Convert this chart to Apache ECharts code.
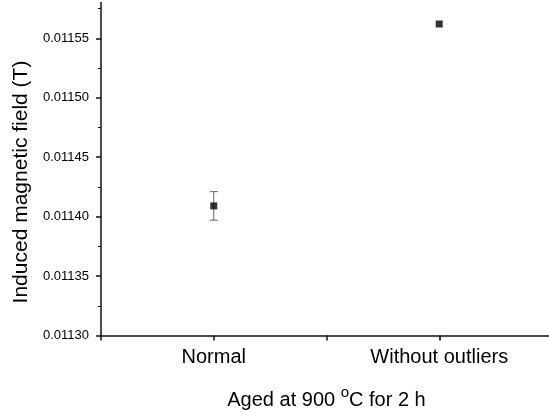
<!DOCTYPE html>
<html>
<head>
<meta charset="utf-8">
<script src="https://cdn.jsdelivr.net/npm/echarts@6/dist/echarts.min.js"></script>
<style>html,body{margin:0;padding:0;background:#fff}#c{width:549px;height:420px}</style>
</head>
<body>
<div id="c"></div>
<script>
const categories = ['Normal', 'Without outliers'];
const positions = [1, 2];
const fieldValues = [0.011409, 0.011562];
const fieldErrors = [0.000012, 0];
const yTickValues = [0.01130, 0.01135, 0.01140, 0.01145, 0.01150, 0.01155];
const yAxisTitle = 'Induced magnetic field (T)';

const FONT = '"Liberation Sans", Arial, Helvetica, sans-serif';
const chart = echarts.init(document.getElementById('c'), null, {renderer: 'canvas'});

const points = positions.map((p, i) => [p, fieldValues[i]]);
const errs = positions
  .map((p, i) => [p, fieldValues[i] - fieldErrors[i], fieldValues[i] + fieldErrors[i], fieldErrors[i]])
  .filter(d => d[3] > 0);

chart.setOption({
  animation: false,
  backgroundColor: '#fff',
  grid: {left: 101, top: 2.6, width: 451, height: 332.9, containLabel: false, outerBoundsMode: 'none'},
  xAxis: {
    type: 'value', min: 0.5, max: 2.5, interval: 0.5,
    splitLine: {show: false},
    axisLine: {lineStyle: {color: '#111', width: 1.5}},
    axisTick: {show: true, inside: false, length: 5, lineStyle: {color: '#111', width: 1.5}},
    axisLabel: {
      fontFamily: FONT, fontSize: 20, color: '#000', margin: 12,
      showMinLabel: true, showMaxLabel: true,
      formatter: v => {
        const i = positions.indexOf(v);
        return i >= 0 ? categories[i] : '';
      }
    },
    name: '{a|Aged at 900 }{sup|o}{a|C for 2 h}',
    nameLocation: 'middle',
    nameGap: 50,
    nameTextStyle: {
      fontFamily: FONT, color: '#000',
      rich: {
        a: {fontFamily: FONT, fontSize: 20, lineHeight: 30, color: '#000'},
        sup: {fontFamily: FONT, fontSize: 15, lineHeight: 10, verticalAlign: 'top', color: '#000'}
      }
    }
  },
  yAxis: {
    type: 'value', min: 0.0113, max: 0.01158, interval: 0.00005,
    splitLine: {show: false},
    axisLine: {show: true, lineStyle: {color: '#111', width: 1.5}},
    axisTick: {show: true, inside: false, length: 5, customValues: yTickValues, lineStyle: {color: '#111', width: 1.5}},
    minorTick: {show: true, splitNumber: 2, length: 3, lineStyle: {color: '#111', width: 1}},
    minorSplitLine: {show: false},
    axisLabel: {
      fontFamily: FONT, fontSize: 13, color: '#000', margin: 12,
      customValues: yTickValues,
      formatter: v => v.toFixed(5)
    }
  },
  graphic: [{
    type: 'text',
    x: 21, y: 182,
    rotation: Math.PI / 2,
    style: {
      text: yAxisTitle,
      font: '21px ' + FONT,
      fill: '#000',
      align: 'center',
      verticalAlign: 'middle'
    }
  }],
  series: [
    {
      type: 'custom',
      data: errs,
      z: 2,
      renderItem: (params, api) => {
        const x = api.value(0);
        const pLo = api.coord([x, api.value(1)]);
        const pHi = api.coord([x, api.value(2)]);
        const hw = 4;
        const st = {stroke: '#666', lineWidth: 1};
        return {
          type: 'group',
          children: [
            {type: 'line', shape: {x1: pHi[0], y1: pHi[1], x2: pLo[0], y2: pLo[1]}, style: st},
            {type: 'line', shape: {x1: pHi[0] - hw, y1: pHi[1], x2: pHi[0] + hw, y2: pHi[1]}, style: st},
            {type: 'line', shape: {x1: pLo[0] - hw, y1: pLo[1], x2: pLo[0] + hw, y2: pLo[1]}, style: st}
          ]
        };
      }
    },
    {
      type: 'scatter',
      data: points,
      z: 3,
      symbol: 'rect',
      symbolSize: 7,
      itemStyle: {color: '#000'}
    }
  ]
});
</script>
</body>
</html>
